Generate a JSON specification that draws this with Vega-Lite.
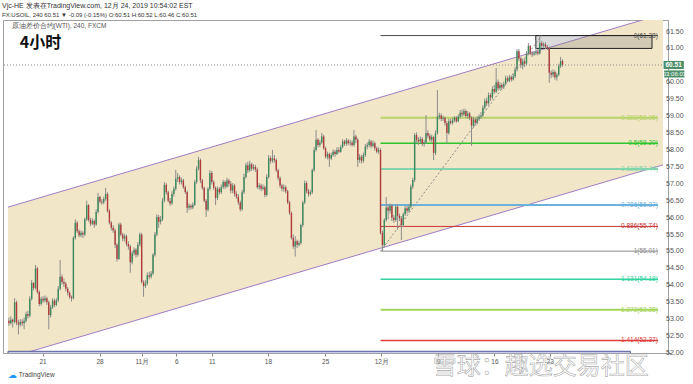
{
"$schema":"https://vega.github.io/schema/vega-lite/v6.json",
"width":665,"height":333,
"autosize":{"type":"none"},
"padding":{"left":3,"top":20,"right":25,"bottom":31},
"background":"#ffffff",
"config":{"view":{"stroke":"#a0a0a0","strokeWidth":1},"font":"Liberation Sans",
 "axis":{"labelOverlap":false,"labelFlush":false,"grid":false,"tickSize":3,"tickColor":"#888888","domainColor":"#a0a0a0","labelColor":"#555555"}},
"title":{"text":"Vjc-HE 发表在TradingView.com, 12月 24, 2019 10:54:02 EST","subtitle":"FX:USOIL, 240  60.51 ▼ -0.09 (-0.15%)  O:60.51 H:60.52 L:60.46 C:60.51","anchor":"start","frame":"group","fontSize":7,"fontWeight":"normal","color":"#333333","subtitleFontSize":6,"subtitleColor":"#333333","subtitlePadding":3,"offset":2,"dx":-1},
"datasets":{
"ch":[{"i":-0.5,"up":56.31,"lo":51.85},{"i":345,"up":62.02,"lo":57.56}],
"yt":[{"v":52,"t":"52.00"},{"v":52.5,"t":"52.50"},{"v":53,"t":"53.00"},{"v":53.5,"t":"53.50"},{"v":54,"t":"54.00"},{"v":54.5,"t":"54.50"},{"v":55,"t":"55.00"},{"v":55.5,"t":"55.50"},{"v":56,"t":"56.00"},{"v":56.5,"t":"56.50"},{"v":57,"t":"57.00"},{"v":57.5,"t":"57.50"},{"v":58,"t":"58.00"},{"v":58.5,"t":"58.50"},{"v":59,"t":"59.00"},{"v":59.5,"t":"59.50"},{"v":60,"t":"60.00"},{"v":61,"t":"61.00"},{"v":61.5,"t":"61.50"}],
"fib":[
{"lv":"0","p":61.38,"t":"0(61.38)"},
{"lv":"0.382","p":58.95,"t":"0.382(58.95)"},
{"lv":"0.5","p":58.2,"t":"0.5(58.20)"},
{"lv":"0.618","p":57.44,"t":"0.618(57.44)"},
{"lv":"0.786","p":56.37,"t":"0.786(56.37)"},
{"lv":"0.886","p":55.74,"t":"0.886(55.74)"},
{"lv":"1","p":55.01,"t":"1(55.01)"},
{"lv":"1.131","p":54.18,"t":"1.131(54.18)"},
{"lv":"1.272","p":53.28,"t":"1.272(53.28)"},
{"lv":"1.414","p":52.37,"t":"1.414(52.37)"}],
"k":[
{"i":0,"o":52.95,"h":53.05,"l":52.8,"c":52.88},
{"i":1,"o":52.88,"h":53.08,"l":52.84,"c":52.98},
{"i":2,"o":52.98,"h":53.02,"l":52.75,"c":52.92},
{"i":3,"o":52.92,"h":53.62,"l":52.88,"c":53.5},
{"i":4,"o":53.5,"h":53.55,"l":52.82,"c":52.9},
{"i":5,"o":52.9,"h":52.98,"l":52.55,"c":52.84},
{"i":6,"o":52.84,"h":53.0,"l":52.78,"c":52.92},
{"i":7,"o":52.92,"h":53.0,"l":52.8,"c":52.88},
{"i":8,"o":52.88,"h":53.05,"l":52.7,"c":52.95},
{"i":9,"o":52.95,"h":53.22,"l":52.9,"c":53.15},
{"i":10,"o":53.15,"h":53.25,"l":53.02,"c":53.1},
{"i":11,"o":53.1,"h":53.68,"l":53.05,"c":53.6},
{"i":12,"o":53.6,"h":54.16,"l":53.55,"c":54.07},
{"i":13,"o":54.07,"h":54.1,"l":53.85,"c":53.92},
{"i":14,"o":53.92,"h":54.6,"l":53.88,"c":54.5},
{"i":15,"o":54.5,"h":54.55,"l":53.75,"c":53.8},
{"i":16,"o":53.8,"h":53.85,"l":53.38,"c":53.45},
{"i":17,"o":53.45,"h":53.66,"l":53.4,"c":53.6},
{"i":18,"o":53.6,"h":53.68,"l":53.48,"c":53.55},
{"i":19,"o":53.55,"h":53.7,"l":53.5,"c":53.62},
{"i":20,"o":53.62,"h":53.66,"l":53.42,"c":53.5},
{"i":21,"o":53.5,"h":53.55,"l":52.7,"c":53.12},
{"i":22,"o":53.12,"h":53.42,"l":53.05,"c":53.35},
{"i":23,"o":53.35,"h":53.62,"l":53.3,"c":53.55},
{"i":24,"o":53.55,"h":53.6,"l":53.35,"c":53.42},
{"i":25,"o":53.42,"h":53.62,"l":53.38,"c":53.55},
{"i":26,"o":53.55,"h":53.98,"l":53.5,"c":53.9},
{"i":27,"o":53.9,"h":54.75,"l":53.85,"c":54.25},
{"i":28,"o":54.25,"h":54.32,"l":54.02,"c":54.1},
{"i":29,"o":54.1,"h":54.2,"l":53.95,"c":54.05},
{"i":30,"o":54.05,"h":54.1,"l":53.82,"c":53.9},
{"i":31,"o":53.9,"h":53.95,"l":53.7,"c":53.78},
{"i":32,"o":53.78,"h":53.82,"l":53.6,"c":53.66},
{"i":33,"o":53.66,"h":53.7,"l":53.52,"c":53.62},
{"i":34,"o":53.62,"h":55.45,"l":53.58,"c":55.4},
{"i":35,"o":55.4,"h":55.95,"l":55.35,"c":55.85},
{"i":36,"o":55.85,"h":55.9,"l":55.55,"c":55.6},
{"i":37,"o":55.6,"h":55.65,"l":55.42,"c":55.48},
{"i":38,"o":55.48,"h":55.62,"l":55.42,"c":55.55},
{"i":39,"o":55.55,"h":55.6,"l":55.4,"c":55.5},
{"i":40,"o":55.5,"h":56.0,"l":55.45,"c":55.95},
{"i":41,"o":55.95,"h":56.5,"l":55.9,"c":56.37},
{"i":42,"o":56.37,"h":56.4,"l":55.88,"c":55.93},
{"i":43,"o":55.93,"h":56.0,"l":55.75,"c":55.82},
{"i":44,"o":55.82,"h":55.98,"l":55.78,"c":55.9},
{"i":45,"o":55.9,"h":55.95,"l":55.7,"c":55.8},
{"i":46,"o":55.8,"h":56.25,"l":55.76,"c":56.17},
{"i":47,"o":56.17,"h":56.73,"l":56.12,"c":56.61},
{"i":48,"o":56.61,"h":56.65,"l":56.42,"c":56.48},
{"i":49,"o":56.48,"h":56.55,"l":56.38,"c":56.45},
{"i":50,"o":56.45,"h":56.62,"l":56.4,"c":56.55},
{"i":51,"o":56.55,"h":56.88,"l":56.5,"c":56.7},
{"i":52,"o":56.7,"h":56.75,"l":56.15,"c":56.2},
{"i":53,"o":56.2,"h":56.25,"l":55.8,"c":55.85},
{"i":54,"o":55.85,"h":55.9,"l":55.62,"c":55.7},
{"i":55,"o":55.7,"h":55.78,"l":55.55,"c":55.62},
{"i":56,"o":55.62,"h":55.68,"l":55.1,"c":55.2},
{"i":57,"o":55.2,"h":55.25,"l":54.7,"c":54.78},
{"i":58,"o":54.78,"h":55.85,"l":54.75,"c":55.8},
{"i":59,"o":55.8,"h":55.85,"l":55.45,"c":55.5},
{"i":60,"o":55.5,"h":55.55,"l":55.3,"c":55.38},
{"i":61,"o":55.38,"h":55.52,"l":55.3,"c":55.45},
{"i":62,"o":55.45,"h":55.5,"l":55.15,"c":55.22},
{"i":63,"o":55.22,"h":55.3,"l":55.05,"c":55.15},
{"i":64,"o":55.15,"h":55.2,"l":54.37,"c":54.68},
{"i":65,"o":54.68,"h":55.02,"l":54.62,"c":54.95},
{"i":66,"o":54.95,"h":55.12,"l":54.88,"c":55.05},
{"i":67,"o":55.05,"h":55.1,"l":54.82,"c":54.9},
{"i":68,"o":54.9,"h":55.28,"l":54.85,"c":55.2},
{"i":69,"o":55.2,"h":55.56,"l":55.15,"c":55.5},
{"i":70,"o":55.5,"h":55.55,"l":54.05,"c":54.1},
{"i":71,"o":54.1,"h":54.15,"l":53.66,"c":53.98},
{"i":72,"o":53.98,"h":54.15,"l":53.92,"c":54.05},
{"i":73,"o":54.05,"h":54.38,"l":54.0,"c":54.3},
{"i":74,"o":54.3,"h":54.4,"l":54.18,"c":54.25},
{"i":75,"o":54.25,"h":54.42,"l":54.2,"c":54.35},
{"i":76,"o":54.35,"h":54.95,"l":54.3,"c":54.9},
{"i":77,"o":54.9,"h":55.58,"l":54.85,"c":55.5},
{"i":78,"o":55.5,"h":56.1,"l":55.45,"c":56.02},
{"i":79,"o":56.02,"h":56.08,"l":55.7,"c":55.88},
{"i":80,"o":55.88,"h":56.05,"l":55.8,"c":55.95},
{"i":81,"o":55.95,"h":56.58,"l":55.9,"c":56.5},
{"i":82,"o":56.5,"h":57.05,"l":56.45,"c":56.97},
{"i":83,"o":56.97,"h":57.02,"l":56.68,"c":56.75},
{"i":84,"o":56.75,"h":56.8,"l":56.45,"c":56.5},
{"i":85,"o":56.5,"h":56.58,"l":56.35,"c":56.42},
{"i":86,"o":56.42,"h":56.78,"l":56.38,"c":56.7},
{"i":87,"o":56.7,"h":56.92,"l":56.62,"c":56.85},
{"i":88,"o":56.85,"h":57.41,"l":56.8,"c":57.15},
{"i":89,"o":57.15,"h":57.32,"l":57.05,"c":57.2},
{"i":90,"o":57.2,"h":57.25,"l":56.98,"c":57.05},
{"i":91,"o":57.05,"h":57.18,"l":56.98,"c":57.1},
{"i":92,"o":57.1,"h":57.15,"l":56.85,"c":56.9},
{"i":93,"o":56.9,"h":56.95,"l":56.7,"c":56.76},
{"i":94,"o":56.76,"h":56.8,"l":56.14,"c":56.29},
{"i":95,"o":56.29,"h":56.42,"l":56.22,"c":56.35},
{"i":96,"o":56.35,"h":56.4,"l":56.24,"c":56.3},
{"i":97,"o":56.3,"h":56.45,"l":56.25,"c":56.38},
{"i":98,"o":56.38,"h":57.12,"l":56.35,"c":57.05},
{"i":99,"o":57.05,"h":57.52,"l":57.0,"c":57.45},
{"i":100,"o":57.45,"h":57.8,"l":57.4,"c":57.7},
{"i":101,"o":57.7,"h":57.75,"l":57.02,"c":57.1},
{"i":102,"o":57.1,"h":57.15,"l":56.82,"c":56.88},
{"i":103,"o":56.88,"h":56.92,"l":56.45,"c":56.5},
{"i":104,"o":56.5,"h":56.55,"l":56.02,"c":56.23},
{"i":105,"o":56.23,"h":56.9,"l":56.18,"c":56.85},
{"i":106,"o":56.85,"h":57.4,"l":56.8,"c":57.32},
{"i":107,"o":57.32,"h":57.38,"l":56.98,"c":57.05},
{"i":108,"o":57.05,"h":57.1,"l":56.82,"c":56.88},
{"i":109,"o":56.88,"h":56.92,"l":56.37,"c":56.58},
{"i":110,"o":56.58,"h":56.92,"l":56.52,"c":56.85},
{"i":111,"o":56.85,"h":56.9,"l":56.68,"c":56.75},
{"i":112,"o":56.75,"h":56.98,"l":56.7,"c":56.9},
{"i":113,"o":56.9,"h":57.12,"l":56.85,"c":57.05},
{"i":114,"o":57.05,"h":57.1,"l":56.85,"c":56.92},
{"i":115,"o":56.92,"h":57.18,"l":56.88,"c":57.1},
{"i":116,"o":57.1,"h":57.15,"l":56.92,"c":57.0},
{"i":117,"o":57.0,"h":57.08,"l":56.72,"c":56.8},
{"i":118,"o":56.8,"h":57.02,"l":56.72,"c":56.95},
{"i":119,"o":56.95,"h":57.0,"l":56.62,"c":56.7},
{"i":120,"o":56.7,"h":56.78,"l":56.55,"c":56.62},
{"i":121,"o":56.62,"h":56.7,"l":56.38,"c":56.45},
{"i":122,"o":56.45,"h":56.5,"l":56.18,"c":56.25},
{"i":123,"o":56.25,"h":56.82,"l":56.2,"c":56.75},
{"i":124,"o":56.75,"h":57.3,"l":56.7,"c":57.2},
{"i":125,"o":57.2,"h":57.62,"l":57.15,"c":57.55},
{"i":126,"o":57.55,"h":57.65,"l":57.32,"c":57.4},
{"i":127,"o":57.4,"h":57.68,"l":57.35,"c":57.58},
{"i":128,"o":57.58,"h":57.62,"l":57.38,"c":57.45},
{"i":129,"o":57.45,"h":57.58,"l":57.4,"c":57.5},
{"i":130,"o":57.5,"h":57.56,"l":57.35,"c":57.42},
{"i":131,"o":57.42,"h":57.48,"l":56.85,"c":56.9},
{"i":132,"o":56.9,"h":57.02,"l":56.82,"c":56.95},
{"i":133,"o":56.95,"h":57.0,"l":56.78,"c":56.85},
{"i":134,"o":56.85,"h":56.98,"l":56.8,"c":56.9},
{"i":135,"o":56.9,"h":56.95,"l":56.6,"c":56.67},
{"i":136,"o":56.67,"h":57.28,"l":56.62,"c":57.2},
{"i":137,"o":57.2,"h":57.85,"l":57.15,"c":57.76},
{"i":138,"o":57.76,"h":57.82,"l":57.6,"c":57.68},
{"i":139,"o":57.68,"h":58.0,"l":57.62,"c":57.75},
{"i":140,"o":57.75,"h":57.85,"l":57.62,"c":57.7},
{"i":141,"o":57.7,"h":57.75,"l":57.35,"c":57.4},
{"i":142,"o":57.4,"h":57.45,"l":57.1,"c":57.17},
{"i":143,"o":57.17,"h":57.22,"l":56.88,"c":56.95},
{"i":144,"o":56.95,"h":57.0,"l":56.78,"c":56.85},
{"i":145,"o":56.85,"h":56.98,"l":56.76,"c":56.9},
{"i":146,"o":56.9,"h":56.95,"l":56.72,"c":56.78},
{"i":147,"o":56.78,"h":56.82,"l":56.4,"c":56.45},
{"i":148,"o":56.45,"h":56.5,"l":56.08,"c":56.14},
{"i":149,"o":56.14,"h":56.18,"l":55.35,"c":55.4},
{"i":150,"o":55.4,"h":55.5,"l":55.08,"c":55.15},
{"i":151,"o":55.15,"h":55.45,"l":54.85,"c":55.3},
{"i":152,"o":55.3,"h":55.35,"l":55.1,"c":55.2},
{"i":153,"o":55.2,"h":55.32,"l":55.15,"c":55.25},
{"i":154,"o":55.25,"h":55.82,"l":55.2,"c":55.78},
{"i":155,"o":55.78,"h":56.5,"l":55.72,"c":56.45},
{"i":156,"o":56.45,"h":57.1,"l":56.4,"c":57.02},
{"i":157,"o":57.02,"h":57.08,"l":56.72,"c":56.78},
{"i":158,"o":56.78,"h":56.85,"l":56.62,"c":56.7},
{"i":159,"o":56.7,"h":56.82,"l":56.65,"c":56.75},
{"i":160,"o":56.75,"h":57.45,"l":56.7,"c":57.41},
{"i":161,"o":57.41,"h":58.08,"l":57.35,"c":58.0},
{"i":162,"o":58.0,"h":58.59,"l":57.95,"c":58.3},
{"i":163,"o":58.3,"h":58.35,"l":58.08,"c":58.15},
{"i":164,"o":58.15,"h":58.3,"l":58.08,"c":58.22},
{"i":165,"o":58.22,"h":58.5,"l":58.18,"c":58.4},
{"i":166,"o":58.4,"h":58.45,"l":58.0,"c":58.05},
{"i":167,"o":58.05,"h":58.1,"l":57.75,"c":57.8},
{"i":168,"o":57.8,"h":57.95,"l":57.72,"c":57.88},
{"i":169,"o":57.88,"h":57.92,"l":57.5,"c":57.75},
{"i":170,"o":57.75,"h":57.92,"l":57.7,"c":57.85},
{"i":171,"o":57.85,"h":58.02,"l":57.8,"c":57.95},
{"i":172,"o":57.95,"h":58.0,"l":57.8,"c":57.88},
{"i":173,"o":57.88,"h":58.08,"l":57.85,"c":58.0},
{"i":174,"o":58.0,"h":58.08,"l":57.9,"c":57.95},
{"i":175,"o":57.95,"h":58.15,"l":57.92,"c":58.08},
{"i":176,"o":58.08,"h":58.32,"l":58.05,"c":58.25},
{"i":177,"o":58.25,"h":58.3,"l":58.12,"c":58.18},
{"i":178,"o":58.18,"h":58.35,"l":58.12,"c":58.28},
{"i":179,"o":58.28,"h":58.32,"l":58.15,"c":58.2},
{"i":180,"o":58.2,"h":58.3,"l":58.12,"c":58.22},
{"i":181,"o":58.22,"h":58.28,"l":58.1,"c":58.15},
{"i":182,"o":58.15,"h":58.59,"l":58.1,"c":58.4},
{"i":183,"o":58.4,"h":58.45,"l":58.2,"c":58.3},
{"i":184,"o":58.3,"h":58.35,"l":57.5,"c":57.7},
{"i":185,"o":57.7,"h":57.88,"l":57.62,"c":57.8},
{"i":186,"o":57.8,"h":57.85,"l":57.6,"c":57.68},
{"i":187,"o":57.68,"h":57.92,"l":57.62,"c":57.85},
{"i":188,"o":57.85,"h":58.18,"l":57.8,"c":58.1},
{"i":189,"o":58.1,"h":58.22,"l":58.02,"c":58.15},
{"i":190,"o":58.15,"h":58.32,"l":58.08,"c":58.25},
{"i":191,"o":58.25,"h":58.3,"l":58.05,"c":58.12},
{"i":192,"o":58.12,"h":58.28,"l":58.08,"c":58.2},
{"i":193,"o":58.2,"h":58.25,"l":57.98,"c":58.05},
{"i":194,"o":58.05,"h":58.1,"l":57.9,"c":57.95},
{"i":195,"o":57.95,"h":58.08,"l":57.88,"c":58.0},
{"i":196,"o":58.0,"h":58.05,"l":55.5,"c":55.55},
{"i":197,"o":55.55,"h":55.62,"l":55.01,"c":55.19},
{"i":198,"o":55.19,"h":55.98,"l":55.12,"c":55.93},
{"i":199,"o":55.93,"h":56.61,"l":55.88,"c":56.3},
{"i":200,"o":56.3,"h":56.38,"l":55.95,"c":56.2},
{"i":201,"o":56.2,"h":56.42,"l":56.12,"c":56.35},
{"i":202,"o":56.35,"h":56.4,"l":55.9,"c":56.0},
{"i":203,"o":56.0,"h":56.08,"l":55.85,"c":55.93},
{"i":204,"o":55.93,"h":56.38,"l":55.88,"c":56.32},
{"i":205,"o":56.32,"h":56.4,"l":55.64,"c":56.05},
{"i":206,"o":56.05,"h":56.12,"l":55.9,"c":55.98},
{"i":207,"o":55.98,"h":56.05,"l":55.34,"c":55.78},
{"i":208,"o":55.78,"h":56.15,"l":55.72,"c":56.1},
{"i":209,"o":56.1,"h":56.35,"l":56.05,"c":56.28},
{"i":210,"o":56.28,"h":56.35,"l":56.12,"c":56.2},
{"i":211,"o":56.2,"h":56.4,"l":56.15,"c":56.32},
{"i":212,"o":56.32,"h":56.98,"l":56.28,"c":56.91},
{"i":213,"o":56.91,"h":57.18,"l":56.85,"c":57.11},
{"i":214,"o":57.11,"h":58.5,"l":57.05,"c":58.44},
{"i":215,"o":58.44,"h":58.52,"l":58.22,"c":58.3},
{"i":216,"o":58.3,"h":58.38,"l":58.15,"c":58.25},
{"i":217,"o":58.25,"h":58.4,"l":58.2,"c":58.32},
{"i":218,"o":58.32,"h":58.38,"l":58.12,"c":58.18},
{"i":219,"o":58.18,"h":58.3,"l":58.1,"c":58.22},
{"i":220,"o":58.22,"h":59.03,"l":58.18,"c":58.5},
{"i":221,"o":58.5,"h":58.58,"l":58.35,"c":58.42},
{"i":222,"o":58.42,"h":58.48,"l":58.25,"c":58.3},
{"i":223,"o":58.3,"h":58.45,"l":58.22,"c":58.38},
{"i":224,"o":58.38,"h":58.42,"l":57.7,"c":57.91},
{"i":225,"o":57.91,"h":58.58,"l":57.85,"c":58.5},
{"i":226,"o":58.5,"h":59.77,"l":58.45,"c":58.97},
{"i":227,"o":58.97,"h":59.1,"l":58.9,"c":59.02},
{"i":228,"o":59.02,"h":59.08,"l":58.85,"c":58.92},
{"i":229,"o":58.92,"h":59.02,"l":58.85,"c":58.95},
{"i":230,"o":58.95,"h":58.98,"l":58.72,"c":58.8},
{"i":231,"o":58.8,"h":58.85,"l":58.2,"c":58.5},
{"i":232,"o":58.5,"h":58.92,"l":58.45,"c":58.85},
{"i":233,"o":58.85,"h":58.92,"l":58.75,"c":58.8},
{"i":234,"o":58.8,"h":58.95,"l":58.75,"c":58.88},
{"i":235,"o":58.88,"h":59.0,"l":58.82,"c":58.95},
{"i":236,"o":58.95,"h":59.0,"l":58.8,"c":58.85},
{"i":237,"o":58.85,"h":59.05,"l":58.82,"c":58.98},
{"i":238,"o":58.98,"h":59.18,"l":58.92,"c":59.1},
{"i":239,"o":59.1,"h":59.2,"l":58.98,"c":59.05},
{"i":240,"o":59.05,"h":59.22,"l":59.0,"c":59.15},
{"i":241,"o":59.15,"h":59.2,"l":58.95,"c":59.0},
{"i":242,"o":59.0,"h":59.15,"l":58.92,"c":59.08},
{"i":243,"o":59.08,"h":59.12,"l":58.88,"c":58.95},
{"i":244,"o":58.95,"h":59.0,"l":58.12,"c":58.72},
{"i":245,"o":58.72,"h":58.98,"l":58.65,"c":58.9},
{"i":246,"o":58.9,"h":58.95,"l":58.72,"c":58.8},
{"i":247,"o":58.8,"h":59.0,"l":58.75,"c":58.92},
{"i":248,"o":58.92,"h":59.05,"l":58.85,"c":58.98},
{"i":249,"o":58.98,"h":59.12,"l":58.92,"c":59.02},
{"i":250,"o":59.02,"h":59.32,"l":58.98,"c":59.25},
{"i":251,"o":59.25,"h":59.52,"l":59.2,"c":59.45},
{"i":252,"o":59.45,"h":59.55,"l":59.3,"c":59.38},
{"i":253,"o":59.38,"h":59.7,"l":59.32,"c":59.62},
{"i":254,"o":59.62,"h":59.68,"l":59.45,"c":59.55},
{"i":255,"o":59.55,"h":59.88,"l":59.5,"c":59.8},
{"i":256,"o":59.8,"h":59.92,"l":59.65,"c":59.72},
{"i":257,"o":59.72,"h":60.42,"l":59.68,"c":60.0},
{"i":258,"o":60.0,"h":60.08,"l":59.75,"c":59.82},
{"i":259,"o":59.82,"h":60.0,"l":59.78,"c":59.92},
{"i":260,"o":59.92,"h":59.98,"l":59.78,"c":59.85},
{"i":261,"o":59.85,"h":60.02,"l":59.8,"c":59.95},
{"i":262,"o":59.95,"h":60.2,"l":59.9,"c":60.12},
{"i":263,"o":60.12,"h":60.18,"l":60.0,"c":60.05},
{"i":264,"o":60.05,"h":60.22,"l":60.0,"c":60.15},
{"i":265,"o":60.15,"h":60.2,"l":60.02,"c":60.08},
{"i":266,"o":60.08,"h":60.25,"l":60.05,"c":60.18},
{"i":267,"o":60.18,"h":60.45,"l":60.12,"c":60.38},
{"i":268,"o":60.38,"h":60.98,"l":60.32,"c":60.92},
{"i":269,"o":60.92,"h":60.98,"l":60.62,"c":60.7},
{"i":270,"o":60.7,"h":60.75,"l":60.42,"c":60.5},
{"i":271,"o":60.5,"h":60.7,"l":60.38,"c":60.62},
{"i":272,"o":60.62,"h":60.68,"l":60.45,"c":60.55},
{"i":273,"o":60.55,"h":60.92,"l":60.5,"c":60.85},
{"i":274,"o":60.85,"h":61.16,"l":60.8,"c":61.07},
{"i":275,"o":61.07,"h":61.1,"l":60.8,"c":60.85},
{"i":276,"o":60.85,"h":60.92,"l":60.75,"c":60.82},
{"i":277,"o":60.82,"h":60.92,"l":60.78,"c":60.86},
{"i":278,"o":60.86,"h":61.25,"l":60.8,"c":60.9},
{"i":279,"o":60.9,"h":60.98,"l":60.8,"c":60.85},
{"i":280,"o":60.85,"h":61.38,"l":60.82,"c":61.16},
{"i":281,"o":61.16,"h":61.22,"l":61.02,"c":61.08},
{"i":282,"o":61.08,"h":61.18,"l":61.02,"c":61.12},
{"i":283,"o":61.12,"h":61.18,"l":60.98,"c":61.05},
{"i":284,"o":61.05,"h":61.1,"l":60.95,"c":61.0},
{"i":285,"o":61.0,"h":61.05,"l":59.98,"c":60.28},
{"i":286,"o":60.28,"h":60.35,"l":60.12,"c":60.22},
{"i":287,"o":60.22,"h":60.38,"l":60.15,"c":60.3},
{"i":288,"o":60.3,"h":60.35,"l":60.08,"c":60.15},
{"i":289,"o":60.15,"h":60.28,"l":60.05,"c":60.22},
{"i":290,"o":60.22,"h":60.55,"l":60.18,"c":60.48},
{"i":291,"o":60.48,"h":60.75,"l":60.42,"c":60.63},
{"i":292,"o":60.63,"h":60.68,"l":60.46,"c":60.51}
]},
"layer":[
{"data":{"name":"ch"},"mark":{"type":"area","fill":"#f2e6c8","clip":true},
 "encoding":{
  "x":{"field":"i","type":"quantitative","scale":{"domain":[-0.5,345],"nice":false,"zero":false},
   "axis":{"values":[17.7,47.8,70.1,88.3,107,136.6,166.8,196.4,226.5,256.1,285.2],
    "labelExpr":"datum.value==17.7?'21':datum.value==47.8?'28':datum.value==70.1?'11月':datum.value==88.3?'6':datum.value==107?'11':datum.value==136.6?'18':datum.value==166.8?'25':datum.value==196.4?'12月':datum.value==226.5?'9':datum.value==256.1?'16':'23'",
    "title":null,"grid":false,"tickSize":3,"tickColor":"#888888","domain":true,"domainColor":"#a0a0a0","labelFontSize":6.5,"labelColor":"#555555","labelPadding":2,"labelFlush":false,"labelOverlap":false}},
  "y":{"field":"up","type":"quantitative","scale":{"domain":[52.0,61.84],"nice":false,"zero":false},
   "axis":{"orient":"right","values":[52,52.5,53,53.5,54,54.5,55,55.5,56,56.5,57,57.5,58,58.5,59,59.5,60,61,61.5],"labels":false,"title":null,"grid":false,"tickSize":3,"tickColor":"#888888","domain":true,"domainColor":"#a0a0a0"}},
  "y2":{"field":"lo"}}},
{"data":{"name":"ch"},"mark":{"type":"line","stroke":"#a07dc4","strokeWidth":1,"clip":true},
 "encoding":{"x":{"field":"i","type":"quantitative"},"y":{"field":"up","type":"quantitative"}}},
{"data":{"name":"ch"},"mark":{"type":"line","stroke":"#a07dc4","strokeWidth":1,"clip":true},
 "encoding":{"x":{"field":"i","type":"quantitative"},"y":{"field":"lo","type":"quantitative"}}},
{"data":{"values":[{}]},"mark":{"type":"rect","fill":"#c9cbee","stroke":"#555a9a","strokeWidth":1,"clip":true},
 "encoding":{"x":{"datum":-0.5,"type":"quantitative"},"x2":{"datum":327.8},"y":{"datum":51.9,"type":"quantitative"},"y2":{"datum":52.05}}},
{"data":{"name":"fib"},"mark":{"type":"rule","clip":true},
 "encoding":{"x":{"datum":196,"type":"quantitative"},"x2":{"datum":342.3},"y":{"field":"p","type":"quantitative"},
  "color":{"field":"lv","type":"nominal","scale":{"domain":["0","0.382","0.5","0.618","0.786","0.886","1","1.131","1.272","1.414"],"range":["#4a4a4a","#b7d36a","#2cc52c","#82d6ad","#6cb2de","#c83434","#8a8a8a","#2fd3a0","#a5d45a","#e03c3c"]},"legend":null},
  "strokeWidth":{"field":"lv","type":"nominal","scale":{"type":"ordinal","domain":["0","0.382","0.5","0.618","0.786","0.886","1","1.131","1.272","1.414"],"range":[1,2,1.5,2,2,1,1,1.5,2,1.5]},"legend":null}}},
{"data":{"values":[{}]},"mark":{"type":"rect","fill":"#7f7f7f","fillOpacity":0.28,"stroke":"#222222","strokeWidth":1},
 "encoding":{"x":{"datum":277.9,"type":"quantitative"},"x2":{"datum":339.2},"y":{"datum":61.0,"type":"quantitative"},"y2":{"datum":61.38}}},
{"data":{"name":"k"},"mark":{"type":"rule","stroke":"#8c8c8c","strokeWidth":1},
 "encoding":{"x":{"field":"i","type":"quantitative"},"y":{"field":"l","type":"quantitative"},"y2":{"field":"h"}}},
{"data":{"name":"k"},"mark":{"type":"bar","width":1.4,"orient":"vertical"},
 "encoding":{
  "x":{"field":"i","type":"quantitative"},
  "y":{"field":"o","type":"quantitative"},
  "y2":{"field":"c"},
  "color":{"condition":{"test":"datum.c >= datum.o","value":"#3a8a5c"},"value":"#b03a3a"}}},
{"data":{"values":[{}]},"mark":{"type":"rule","stroke":"#8a8a8a","strokeDash":[2,2],"strokeWidth":1},
 "encoding":{"x":{"datum":196,"type":"quantitative"},"x2":{"datum":281},"y":{"datum":55.01,"type":"quantitative"},"y2":{"datum":61.38}}},
{"data":{"values":[{}]},"mark":{"type":"rule","stroke":"#8a8a8a","strokeDash":[1,2],"strokeWidth":1},
 "encoding":{"y":{"datum":60.51,"type":"quantitative"}}},
{"data":{"name":"fib"},"mark":{"type":"text","align":"right","baseline":"middle","fontSize":6.5,"clip":false},
 "encoding":{"x":{"datum":342.3,"type":"quantitative"},"y":{"field":"p","type":"quantitative"},"text":{"field":"t"},"color":{"field":"lv","type":"nominal","legend":null}}},
{"data":{"name":"yt"},"mark":{"type":"text","align":"left","baseline":"middle","fontSize":7,"fill":"#555555","clip":false},
 "encoding":{"x":{"datum":346.6,"type":"quantitative"},"y":{"field":"v","type":"quantitative"},"text":{"field":"t"}}},
{"data":{"values":[{}]},"mark":{"type":"rect","fill":"#4b8e68","clip":false},
 "encoding":{"x":{"datum":345.3,"type":"quantitative"},"x2":{"datum":356},"y":{"datum":60.39,"type":"quantitative"},"y2":{"datum":60.63}}},
{"data":{"values":[{}]},"mark":{"type":"rect","fill":"#4b8e68","clip":false},
 "encoding":{"x":{"datum":345.6,"type":"quantitative"},"x2":{"datum":356.3},"y":{"datum":60.14,"type":"quantitative"},"y2":{"datum":60.35}}},
{"data":{"values":[{}]},"mark":{"type":"text","text":"60.51","fill":"#ffffff","fontSize":6.5,"fontWeight":"bold","align":"center","baseline":"middle","clip":false},
 "encoding":{"x":{"datum":350.6,"type":"quantitative"},"y":{"datum":60.51,"type":"quantitative"}}},
{"data":{"values":[{}]},"mark":{"type":"text","text":"03:06:03","fill":"#ffffff","fontSize":6,"align":"center","baseline":"middle","clip":false},
 "encoding":{"x":{"datum":351,"type":"quantitative"},"y":{"datum":60.245,"type":"quantitative"}}},
{"data":{"values":[{}]},"mark":{"type":"text","text":"原油差价合约(WTI), 240, FXCM","fill":"#555555","fontSize":6.5,"align":"left","baseline":"middle"},
 "encoding":{"x":{"datum":1.4,"type":"quantitative"},"y":{"datum":61.66,"type":"quantitative"}}},
{"data":{"values":[{}]},"mark":{"type":"text","text":"4小时","fill":"#111111","fontSize":16,"fontWeight":"bold","font":"Noto Sans CJK SC","align":"left","baseline":"middle"},
 "encoding":{"x":{"datum":5.7,"type":"quantitative"},"y":{"datum":61.16,"type":"quantitative"}}},
{"data":{"values":[{}]},"mark":{"type":"text","text":"☁","fill":"#2196f3","fontSize":9,"align":"center","baseline":"middle","clip":false},
 "encoding":{"x":{"datum":2.1,"type":"quantitative"},"y":{"datum":51.35,"type":"quantitative"}}},
{"data":{"values":[{}]},"mark":{"type":"text","text":"TradingView","fill":"#444444","fontSize":6.5,"align":"left","baseline":"middle","clip":false},
 "encoding":{"x":{"datum":5.2,"type":"quantitative"},"y":{"datum":51.35,"type":"quantitative"}}},
{"data":{"values":[{}]},"mark":{"type":"text","text":"雪球：趣选交易社区","font":"Noto Sans CJK SC","fontSize":24,"fill":"#ffffff","fillOpacity":0.35,"stroke":"#9a9a9a","strokeWidth":0.6,"strokeOpacity":0.85,"align":"center","baseline":"middle","clip":false},
 "encoding":{"x":{"datum":280.5,"type":"quantitative"},"y":{"datum":51.58,"type":"quantitative"}}}
]
}
